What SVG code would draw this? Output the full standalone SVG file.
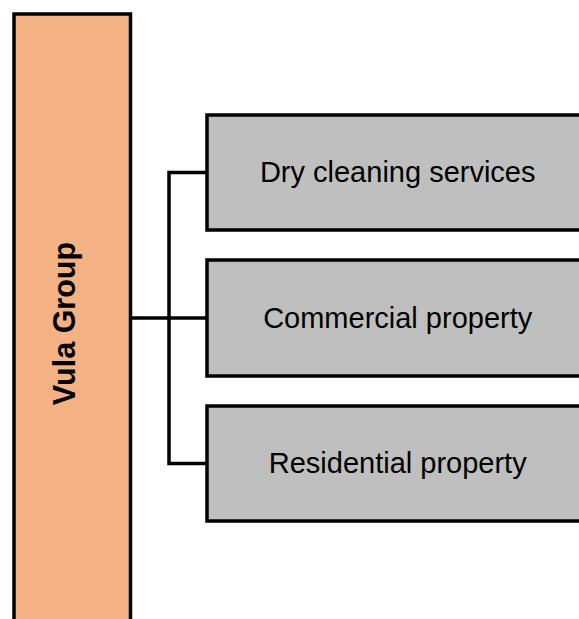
<svg xmlns="http://www.w3.org/2000/svg" width="579" height="619" viewBox="0 0 579 619">
  <style>
    .root { fill: #F4B183; stroke: #000; stroke-width: 3.5; }
    .unit { fill: #BFBFBF; stroke: #000; stroke-width: 3.5; }
    .label { font-family: "Liberation Sans", Arial, sans-serif; font-size: 29px; fill: #000; text-anchor: middle; }
    .root-label { font-weight: bold; font-size: 30.5px; }
    .wire { fill: none; stroke: #000; stroke-width: 3.5; stroke-linejoin: miter; stroke-linecap: square; }
  </style>
  <rect width="579" height="619" fill="#fff"/>

  <!-- connectors -->
  <g id="connectors">
    <path class="wire" d="M131 318 H207"/>
    <path class="wire" d="M207 172.5 H169 V463.5 H207"/>
  </g>

  <g id="vula-group">
    <rect class="root" x="14" y="14" width="116.5" height="620"/>
    <text class="label root-label" transform="translate(75,323.5) rotate(-90)">Vula Group</text>
  </g>

  <g id="dry-cleaning">
    <rect class="unit" x="207" y="115" width="381" height="115"/>
    <text class="label" x="397.7" y="182">Dry cleaning services</text>
  </g>

  <g id="commercial-property">
    <rect class="unit" x="207" y="260" width="381" height="116"/>
    <text class="label" x="397.7" y="327.5">Commercial property</text>
  </g>

  <g id="residential-property">
    <rect class="unit" x="207" y="406" width="381" height="115"/>
    <text class="label" x="397.7" y="472.5">Residential property</text>
  </g>
</svg>
